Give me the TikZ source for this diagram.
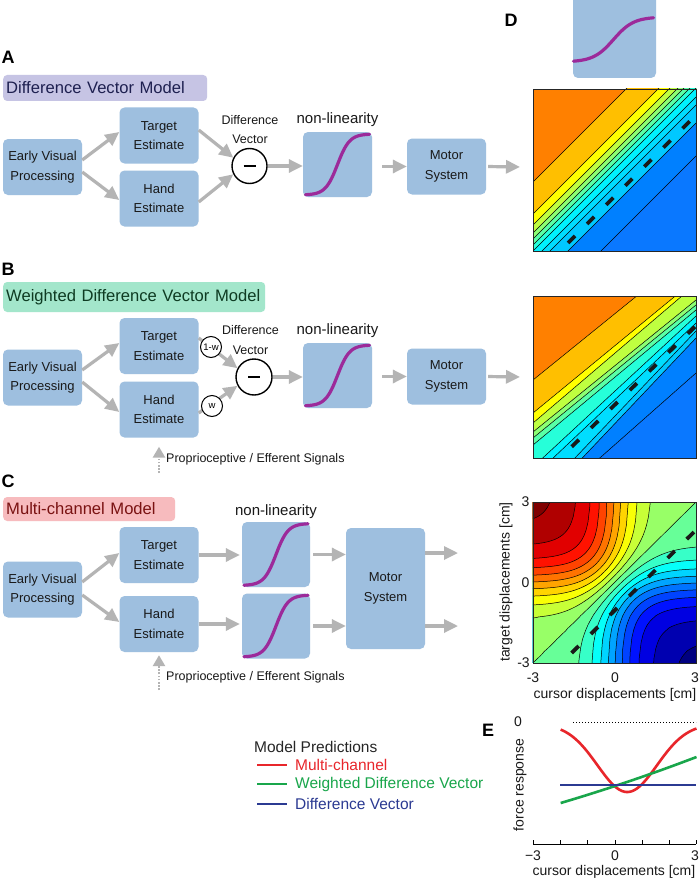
\documentclass[tikz,border=0pt]{standalone}
\usepackage{fontspec}
\setmainfont{Liberation Sans}
\usepackage{xcolor}
\usetikzlibrary{arrows.meta,positioning,calc}
\definecolor{BoxBlue}{HTML}{9EBFDF}
\definecolor{ArrowGray}{HTML}{B4B4B4}
\definecolor{SigPurple}{HTML}{9C2A9A}
\definecolor{TitleDV}{HTML}{C6C4E4}
\definecolor{TitleDVText}{HTML}{1E2050}
\definecolor{TitleWDV}{HTML}{A3E6CB}
\definecolor{TitleWDVText}{HTML}{0E3B22}
\definecolor{TitleMC}{HTML}{F7BBBE}
\definecolor{TitleMCText}{HTML}{7A1212}
\definecolor{PredRed}{HTML}{E8262B}
\definecolor{PredGreen}{HTML}{19A64B}
\definecolor{PredBlue}{HTML}{2B3A92}
% bands of the two linear models
\definecolor{BandA}{HTML}{FF8000}
\definecolor{BandB}{HTML}{FFBF00}
\definecolor{BandC}{HTML}{FFFF00}
\definecolor{BandD}{HTML}{BFFF40}
\definecolor{BandE}{HTML}{8CFF73}
\definecolor{BandF}{HTML}{59FFA6}
\definecolor{BandG}{HTML}{26FFD9}
\definecolor{BandH}{HTML}{00F2FF}
\definecolor{BandI}{HTML}{00DDFF}
\definecolor{BandJ}{HTML}{00C8FF}
\definecolor{BandK}{HTML}{0080FF}
\definecolor{BandL}{HTML}{0A78FF}
\definecolor{BandNavy}{rgb}{0,0,0.5}
\tikzstyle{ProcBox}=[fill=BoxBlue,rounded corners=5pt,minimum width=79pt,minimum height=56pt,align=center,inner sep=1pt,text=black!90,font=\fontsize{13}{19.5}\selectfont]
\tikzstyle{NonlinBox}=[fill=BoxBlue,rounded corners=5pt,minimum width=69pt,minimum height=65pt,inner sep=0pt]
\tikzstyle{ModelTitle}=[rounded corners=4pt,inner xsep=3pt,inner ysep=0pt,align=left,font=\fontsize{16.6}{20}\selectfont]
\tikzstyle{PanelLetter}=[inner sep=0pt,font=\fontsize{18}{20}\selectfont\bfseries]
\tikzstyle{SmallText}=[inner sep=0pt,align=center,text=black!90,font=\fontsize{12.5}{19.5}\selectfont]
\tikzstyle{NonlinText}=[inner sep=0pt,text=black!90,font=\fontsize{15}{18}\selectfont]
\tikzstyle{DiffCircle}=[circle,draw=black,line width=1.4pt,fill=white,minimum size=35pt,inner sep=0pt]
\tikzstyle{WeightCircle}=[circle,draw=black,line width=1pt,fill=white,minimum size=21pt,inner sep=0pt,font=\fontsize{9.5}{10}\selectfont]
\tikzstyle{FlowArrow}=[-{Triangle[length=14pt,width=13pt]},line width=3.2pt,draw=ArrowGray]
\tikzstyle{SignalArrow}=[-{Triangle[length=11pt,width=12pt]},dash pattern=on 1.6pt off 1.6pt,line width=2.6pt,draw=ArrowGray]
\tikzstyle{SigLine}=[draw=SigPurple,line width=3.2pt,line cap=round]
\tikzstyle{ContourLine}=[draw=black,line width=0.5pt]
\tikzstyle{PlotFrame}=[draw=black!85,line width=0.8pt]
\tikzstyle{ModelDash}=[draw=black!90,line width=3.8pt,dash pattern=on 10pt off 17pt]
\tikzstyle{AxisText}=[inner sep=0pt,text=black!90,font=\fontsize{14}{16}\selectfont]
\tikzstyle{PredLine}=[line width=2.6pt]
\tikzstyle{LegendText}=[inner sep=0pt,font=\fontsize{15.5}{18}\selectfont]
\newcommand{\sigcurve}[4]{% centre, half width, half height, steepness
  \begin{scope}[shift={(#1)}]
    \draw[SigLine] plot[domain=-#2:#2,samples=50] (\x,{#3-2*#3/(1+exp(-\x/#4))});
  \end{scope}}
\begin{document}
\begin{tikzpicture}[x=1pt,y=-1pt,
  declare function={zz(\cpos,\lev)=max(-0.9995,min(0.9995,\lev+1-2/(1+exp(1.6*\cpos))));
                    tt(\cpos,\lev)=0.625*ln((1+zz(\cpos,\lev))/(1-zz(\cpos,\lev)));}]
\path[use as bounding box,fill=white] (0,0) rectangle (700,880);

% A: difference vector model
\node[PanelLetter] (letterA) at (8,57) {A};
\node[ModelTitle,fill=TitleDV,text=TitleDVText,text width=198pt,minimum height=26pt,anchor=west] (titleA) at (3,88) {Difference Vector Model};
\node[ProcBox] (earlyA) at (42.5,167) {Early Visual\\Processing};
\node[ProcBox] (targetA) at (159,135.5) {Target\\Estimate};
\node[ProcBox] (handA) at (159,198.5) {Hand\\Estimate};
\node[DiffCircle] (diffA) at (249.5,166) {\rule{12pt}{2.8pt}};
\node[SmallText] (dvTextA) at (250,129.5) {Difference\\Vector};
\node[NonlinBox] (nlA) at (337.5,164.5) {};
\node[NonlinText] (nlTextA) at (337.5,120) {non-linearity};
\node[ProcBox] (motorA) at (446.5,166.5) {Motor\\System};
\coordinate (outA) at (520,167);
\sigcurve{nlA}{32}{30.5}{6}
\draw[FlowArrow] ([yshift=7pt]earlyA.east) -- ([yshift=3.5pt]targetA.west);
\draw[FlowArrow] ([yshift=-5pt]earlyA.east) -- ([yshift=-1.5pt]handA.west);
\draw[FlowArrow] ([yshift=5.5pt]targetA.east) -- (diffA.153);
\draw[FlowArrow] ([yshift=-3.5pt]handA.east) -- (diffA.207);
\draw[FlowArrow] (diffA.east) -- (diffA.east -| nlA.west);
\draw[FlowArrow,shorten <=10pt] (nlA.east |- motorA.west) -- (motorA.west);
\draw[FlowArrow,shorten <=2pt] (motorA.east) -- (outA);

% B: weighted difference vector model
\node[PanelLetter] (letterB) at (8,269) {B};
\node[ModelTitle,fill=TitleWDV,text=TitleWDVText,text width=256pt,minimum height=30pt,anchor=west] (titleB) at (3,297) {Weighted Difference Vector Model};
\node[ProcBox] (earlyB) at (42.5,377.5) {Early Visual\\Processing};
\node[ProcBox] (targetB) at (159,346) {Target\\Estimate};
\node[ProcBox] (handB) at (159,409.5) {Hand\\Estimate};
\node[DiffCircle,minimum size=36pt] (diffB) at (254,377) {\rule{12pt}{2.8pt}};
\node[SmallText] (dvTextB) at (250.5,340) {Difference\\Vector};
\node[NonlinBox] (nlB) at (337.5,375.5) {};
\node[NonlinText] (nlTextB) at (337.5,331) {non-linearity};
\node[ProcBox] (motorB) at (446.5,376.5) {Motor\\System};
\coordinate (outB) at (520,377);
\coordinate (propB) at (159,473);
\sigcurve{nlB}{32}{30.5}{6}
\draw[FlowArrow] ([yshift=7.5pt]earlyB.east) -- ([yshift=3pt]targetB.west);
\draw[FlowArrow] ([yshift=-4.5pt]earlyB.east) -- ([yshift=-2.5pt]handB.west);
\draw[FlowArrow] ([yshift=8pt]targetB.east) -- (diffB.152);
\draw[FlowArrow] ([yshift=-3.5pt]handB.east) -- (diffB.208);
\draw[FlowArrow] (diffB.east) -- (diffB.east -| nlB.west);
\draw[FlowArrow,shorten <=10pt] (nlB.east |- motorB.west) -- (motorB.west);
\draw[FlowArrow,shorten <=2pt] (motorB.east) -- (outB);
\node[WeightCircle] (wTarget) at (211,347) {1-w};
\node[WeightCircle] (wHand) at (212,406) {w};
\draw[SignalArrow,shorten >=9pt] (propB) -- (handB.south);
\node[SmallText,anchor=west] (signalB) at (166,459) {Proprioceptive / Efferent Signals};

% C: multi-channel model
\node[PanelLetter] (letterC) at (8,481) {C};
\node[ModelTitle,fill=TitleMC,text=TitleMCText,text width=166pt,minimum height=24pt,anchor=west] (titleC) at (3,509) {Multi-channel Model};
\node[ProcBox] (earlyC) at (42.5,589.5) {Early Visual\\Processing};
\node[ProcBox] (targetC) at (159,555) {Target\\Estimate};
\node[ProcBox] (handC) at (159,624) {Hand\\Estimate};
\node[NonlinBox,minimum width=68pt] (nlTargetC) at (276,554.5) {};
\node[NonlinBox,minimum width=68pt] (nlHandC) at (276,626) {};
\node[NonlinText] (nlTextC) at (276,512) {non-linearity};
\node[ProcBox,minimum height=121pt] (motorC) at (385.5,588.5) {Motor\\System};
\coordinate (outTargetC) at (458,553);
\coordinate (outHandC) at (458,626);
\coordinate (propC) at (159,690);
\sigcurve{nlTargetC}{32}{31}{6}
\sigcurve{nlHandC}{32}{31}{6}
\draw[FlowArrow] ([yshift=7.5pt]earlyC.east) -- ([yshift=2pt]targetC.west);
\draw[FlowArrow] ([yshift=-5.5pt]earlyC.east) -- ([yshift=2pt]handC.west);
\draw[FlowArrow,shorten >=2pt] (targetC.east) -- (targetC.east -| nlTargetC.west);
\draw[FlowArrow,shorten >=2pt] (handC.east) -- (handC.east -| nlHandC.west);
\draw[FlowArrow,shorten <=3pt] (nlTargetC.east) -- (nlTargetC.east -| motorC.west);
\draw[FlowArrow,shorten <=3pt] (nlHandC.east) -- (nlHandC.east -| motorC.west);
\draw[FlowArrow] (motorC.east |- outTargetC) -- (outTargetC);
\draw[FlowArrow] (motorC.east |- outHandC) -- (outHandC);
\draw[SignalArrow,shorten >=3pt] (propC) -- (handC.south);
\node[SmallText,anchor=west] (signalC) at (166,677) {Proprioceptive / Efferent Signals};

% D: predicted force maps
\node[PanelLetter] (letterD) at (511,20) {D};
\node[NonlinBox,minimum width=83pt,minimum height=95pt] (nlD) at (614.5,30.5) {};
\coordinate (sigD) at (613.5,39.5);
\sigcurve{sigD}{40}{22.5}{10}
% difference vector map
\begin{scope}[shift={(533pt,-89pt)}]
  \clip (0,0) rectangle (163,162);
  \fill[BandA] (0,0) rectangle (163,162);
  \foreach \s/\c in {93/BandB,125/BandC,136/BandD,144/BandE,150/BandF,156/BandG,162/BandH,171/BandI,179/BandJ,197/BandK,230/BandL}
    \fill[\c] (0,\s) -- (163,\s-163) -- (163,400) -- (0,400) -- cycle;
  \foreach \s in {93,125,136,144,150,156,162,171,179,197,230}
    \draw[ContourLine] (0,\s) -- (163,\s-163);
\end{scope}
\draw[PlotFrame] (533,89) rectangle (696,251);
\draw[ModelDash] (568,243) -- (694,117);
% weighted difference vector map
\begin{scope}[shift={(533pt,-296pt)}]
  \clip (0,0) rectangle (163,162);
  \fill[BandA] (0,0) rectangle (163,162);
  \foreach \yl/\yr/\c in {84/-48/BandB,117/-17/BandC,127/-12/BandD,136/4/BandE,142/9/BandF,149/14/BandG,171/20/BandH,181/27/BandI,206/35/BandJ,214/42/BandK,221/77/BandL}{
    \fill[\c] (0,\yl) -- (163,\yr) -- (163,400) -- (0,400) -- cycle;
    \draw[ContourLine] (0,\yl) -- (163,\yr);
  }
\end{scope}
\draw[PlotFrame] (533,296) rectangle (696,458);
\draw[ModelDash] (571.7,446.7) -- (695,326.7);
% multi-channel map
\begin{scope}[shift={(614.5pt,-582.5pt)},x=27.17pt,y=26.83pt]
  \clip (-3,-3) rectangle (3,3);
  \fill[BandNavy] (-3,-3) rectangle (3,3);
  \foreach \lv [count=\n] in {-1.94,-1.8,-1.6,-1.4,-1.2,-1,-0.8,-0.6,-0.4,-0.2,0,0.2,0.4,0.6,0.8,1,1.2,1.4,1.6,1.8,1.94}{
    \pgfmathsetmacro\redv{max(0,min(1,1.5-abs(4*\n/21-3)))}
    \pgfmathsetmacro\grnv{max(0,min(1,1.5-abs(4*\n/21-2)))}
    \pgfmathsetmacro\bluv{max(0,min(1,1.5-abs(4*\n/21-1)))}
    \definecolor{BandJet}{rgb}{\redv,\grnv,\bluv}
    \fill[BandJet] plot[domain=-3:3,samples=90] (\x,{tt(\x,\lv)}) -- (3,6) -- (-3,6) -- cycle;
  }
  \foreach \lv in {-1.94,-1.8,-1.6,-1.4,-1.2,-1,-0.8,-0.6,-0.4,-0.2,0,0.2,0.4,0.6,0.8,1,1.2,1.4,1.6,1.8,1.94}
    \draw[ContourLine] plot[domain=-3:3,samples=90] (\x,{tt(\x,\lv)});
\end{scope}
\draw[PlotFrame] (533,502) rectangle (696,663);
\draw[ModelDash] (571.6,653) -- (696,530);
\node[AxisText] (tickTop) at (525.5,502) {3};
\node[AxisText] (tickMid) at (525.5,583) {0};
\node[AxisText] (tickLow) at (523.5,663) {-3};
\node[AxisText] (tickLeft) at (533,678) {-3};
\node[AxisText] (tickCentre) at (615,678) {0};
\node[AxisText] (tickRight) at (695,678) {3};
\node[AxisText,rotate=90] (targetAxis) at (506,582) {target displacements [cm]};
\node[AxisText] (cursorAxisD) at (615,695) {cursor displacements [cm]};

% E: force response predictions
\node[PanelLetter] (letterE) at (488,730) {E};
\node[AxisText] (zeroLabel) at (518,722) {0};
\draw[dotted,line width=1pt] (573,722) -- (696,722);
\node[AxisText,rotate=90] (forceAxis) at (520,785) {force response};
\draw[line width=0.8pt] (533,844) -- (696,844);
\foreach \t in {-3,...,3}
  \draw[line width=0.8pt] ({615+27.17*(\t)},844) -- ++(0,-4);
\node[AxisText] (tickEleft) at (533,856) {−3};
\node[AxisText] (tickEcentre) at (615,856) {0};
\node[AxisText] (tickEright) at (695,856) {3};
\node[AxisText] (cursorAxisE) at (614,872) {cursor displacements [cm]};
\draw[PredLine,PredRed] plot[domain=-2:3,samples=80] ({615+27.17*(\x)},{724+68*exp(-(\x-0.45)*(\x-0.45)/2.4)});
\draw[PredLine,PredGreen] plot[domain=-2:3,samples=40] ({615+27.17*(\x)},{786-8.97*(\x)-0.233*(\x)*(\x)});
\draw[PredLine,PredBlue] (560,785) -- (696,785);
% legend
\node[LegendText,anchor=west,text=black!85] (legendHead) at (254,747) {Model Predictions};
\draw[PredLine,PredRed] (257,765) -- (287,765);
\node[LegendText,anchor=west,text=PredRed] (legendMC) at (295,765) {Multi-channel};
\draw[PredLine,PredGreen] (257,784) -- (287,784);
\node[LegendText,anchor=west,text=PredGreen] (legendWDV) at (295,784) {Weighted Difference Vector};
\draw[PredLine,PredBlue] (257,804) -- (287,804);
\node[LegendText,anchor=west,text=PredBlue] (legendDV) at (295,804) {Difference Vector};
\end{tikzpicture}
\end{document}
